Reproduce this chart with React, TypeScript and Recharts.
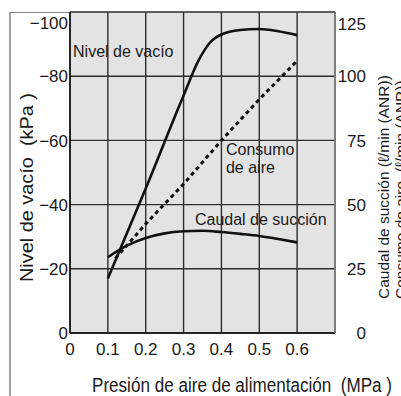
import React from "react";
import { LineChart, Line, XAxis, YAxis, CartesianGrid, ReferenceDot } from "recharts";

// Pressure (MPa) for each series
const pressureVacuum = [0.1, 0.2, 0.3, 0.34, 0.37, 0.4, 0.45, 0.5, 0.55, 0.6];
const vacuumLevel = [-17, -45, -74, -85, -90.5, -93, -94.4, -94.7, -94, -92.8];

const pressureSuction = [0.1, 0.15, 0.2, 0.25, 0.3, 0.35, 0.4, 0.45, 0.5, 0.55, 0.6];
const suctionFlow = [29.5, 34, 37, 38.8, 39.6, 39.8, 39.3, 38.6, 37.8, 36.6, 35.3];

const pressureConsumption = [0.12, 0.2, 0.3, 0.4, 0.5, 0.6];
const airConsumption = [29, 42.5, 58, 75, 91, 106];

const xTicks = [0, 0.1, 0.2, 0.3, 0.4, 0.5, 0.6];
const leftTicks = [-100, -80, -60, -40, -20, 0];
const rightTicks = [0, 25, 50, 75, 100, 125];

const xTitle = "Presión de aire de alimentación  (MPa )";
const leftTitle = "Nivel de vacío  (kPa )";
const rightTitle1 = "Caudal de succión (ℓ/min (ANR))";
const rightTitle2 = "Consumo de aire  (ℓ/min (ANR))";

const vacuumData = pressureVacuum.map((p, i) => ({ p, v: vacuumLevel[i] }));
const suctionData = pressureSuction.map((p, i) => ({ p, v: suctionFlow[i] }));
const consumptionData = pressureConsumption.map((p, i) => ({ p, v: airConsumption[i] }));

const FONT = "'Liberation Sans', Arial, Helvetica, sans-serif";
const INK = "#1a1a1a";

const fmtLeft = (v: number) => (v === 0 ? "0" : "\u2212" + Math.abs(v));

const LeftTick = (props: any) => {
  const { x, y, payload } = props;
  const dy = payload.value === -100 ? 10.5 : 0;
  return (
    <text x={x} y={y + dy} dy="0.36em" textAnchor="end" fontSize={17} fill={INK} fontFamily={FONT}>
      {fmtLeft(payload.value)}
    </text>
  );
};

const RightTick = (props: any) => {
  const { x, y, payload } = props;
  const dy = payload.value === 125 ? 12 : 0;
  return (
    <text x={x + 29} y={y + dy} dy="0.36em" textAnchor="end" fontSize={17} fill={INK} fontFamily={FONT}>
      {payload.value}
    </text>
  );
};

const XTick = (props: any) => {
  const { x, y, payload } = props;
  return (
    <text x={x} y={y} dy="0.71em" textAnchor="middle" fontSize={17} fill={INK} fontFamily={FONT}>
      {payload.value === 0 ? "0" : payload.value.toFixed(1)}
    </text>
  );
};

const makeLabel = (txt: string) => (p: any) => (
  <text x={p.cx} y={p.cy} fontSize={16} fill={INK} fontFamily={FONT}>
    {txt}
  </text>
);

const pre = { whiteSpace: "pre" } as React.CSSProperties;

export default function App() {
  return (
    <div style={{ position: "absolute", left: 0, top: 0, width: 401, height: 396, background: "#fff", overflow: "hidden" }}>
      <div
        style={{
          position: "absolute",
          left: 9,
          top: 12,
          width: 61,
          height: 384,
          borderLeft: "2px solid #a2a2a2",
          borderTop: "1px solid #888",
        }}
      />
      <div style={{ position: "absolute", left: 0, top: 0 }}>
        <LineChart width={401} height={396} margin={{ top: 12, right: 0, bottom: 0, left: 0 }}>
          <CartesianGrid
            yAxisId="left"
            fill="#e3e3e3"
            stroke="#2e2e2e"
            strokeWidth={1.4}
          />
          <XAxis
            type="number"
            dataKey="p"
            domain={[0, 0.7]}
            ticks={xTicks}
            height={63}
            tick={<XTick />}
            tickLine={false}
            tickSize={0}
            tickMargin={10}
            axisLine={{ stroke: "#111", strokeWidth: 1.5 }}
            allowDataOverflow
          />
          <YAxis
            yAxisId="left"
            type="number"
            domain={[-100, 0]}
            reversed
            ticks={leftTicks}
            width={70}
            tick={<LeftTick />}
            tickLine={false}
            tickSize={0}
            tickMargin={2}
            axisLine={{ stroke: "#111", strokeWidth: 1.5 }}
            allowDataOverflow
          />
          <YAxis
            yAxisId="right"
            orientation="right"
            type="number"
            domain={[0, 125]}
            ticks={rightTicks}
            width={66}
            tick={<RightTick />}
            tickLine={false}
            tickSize={0}
            tickMargin={2}
            axisLine={{ stroke: "#8a8a8a", strokeWidth: 1.3 }}
            allowDataOverflow
          />
          <Line
            yAxisId="left"
            data={vacuumData}
            dataKey="v"
            type="monotone"
            stroke="#111"
            strokeWidth={2.6}
            dot={false}
            isAnimationActive={false}
          />
          <Line
            yAxisId="right"
            data={suctionData}
            dataKey="v"
            type="monotone"
            stroke="#111"
            strokeWidth={2.6}
            dot={false}
            isAnimationActive={false}
          />
          <Line
            yAxisId="right"
            data={consumptionData}
            dataKey="v"
            type="linear"
            stroke="#111"
            strokeWidth={3}
            strokeDasharray="4 3.5"
            dot={false}
            isAnimationActive={false}
          />
          <ReferenceDot yAxisId="left" x={0.008} y={-85.9} r={0} shape={makeLabel("Nivel de vacío")} />
          <ReferenceDot yAxisId="left" x={0.412} y={-55.3} r={0} shape={makeLabel("Consumo")} />
          <ReferenceDot yAxisId="left" x={0.412} y={-49.7} r={0} shape={makeLabel("de aire")} />
          <ReferenceDot yAxisId="left" x={0.33} y={-33.75} r={0} shape={makeLabel("Caudal de succión")} />
        </LineChart>
      </div>
      <svg
        width={401}
        height={396}
        style={{ position: "absolute", left: 0, top: 0, pointerEvents: "none" }}
      >
        <text
          x={92}
          y={392}
          fontSize={19.5}
          fill={INK}
          fontFamily={FONT}
          textLength={300}
          lengthAdjust="spacingAndGlyphs"
          style={pre}
        >
          {xTitle}
        </text>
        <text
          x={33}
          y={282}
          transform="rotate(-90 33 282)"
          fontSize={19}
          fill={INK}
          fontFamily={FONT}
          textLength={189}
          lengthAdjust="spacingAndGlyphs"
          style={pre}
        >
          {leftTitle}
        </text>
        <text
          x={389}
          y={299}
          transform="rotate(-90 389 299)"
          fontSize={15.5}
          fill={INK}
          fontFamily={FONT}
          style={pre}
        >
          {rightTitle1}
        </text>
        <text
          x={406}
          y={299}
          transform="rotate(-90 406 299)"
          fontSize={15.5}
          fill={INK}
          fontFamily={FONT}
          style={pre}
        >
          {rightTitle2}
        </text>
      </svg>
    </div>
  );
}
